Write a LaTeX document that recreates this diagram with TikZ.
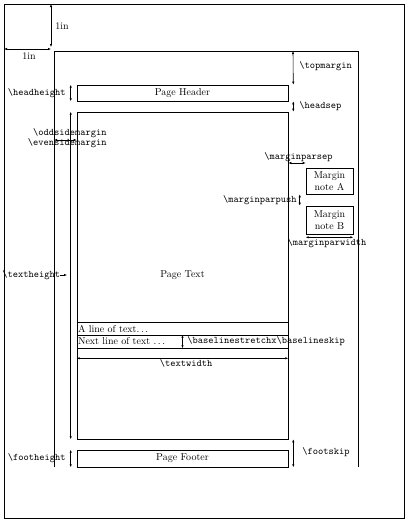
\documentclass[tikz,border=0pt]{standalone}
\usepackage{tikz}
\usetikzlibrary{arrows.meta}
\newcommand{\lmac}[1]{\texttt{\textbackslash #1}}

\begin{document}
\begin{tikzpicture}[x=1pt,y=-1pt,line width=0.6pt,
    dim/.style={{Latex[length=3pt,width=2.4pt]}-{Latex[length=3pt,width=2.4pt]}},
    pointer/.style={-{Latex[length=3pt,width=2.4pt]}},
    box/.style={draw,inner sep=0pt},
    lab/.style={inner sep=0pt}]
    \useasboundingbox (0,0) rectangle (407,522);
    \def \textw {211pt}
    % paper and the one inch frame
    \draw (4,4) rectangle (404.5,518);
    \draw (54,467) -- (54,51) -- (358,51) -- (358,467);
    \coordinate (paperT) at (51,4);
    \coordinate (paperL) at (4,49);
    \coordinate (inchT) at (51,47);
    \coordinate (inchL) at (51,49);
    \draw[dim] (paperT) -- (inchT);
    \draw[dim] (paperL) -- (inchL);
    \node[lab,anchor=west] (inchy) at (55,26) {1in};
    \node[lab] (inchx) at (29,56) {1in};
    % the boxes of the page
    \node[box,minimum width=\textw,minimum height=16pt] (header) at (182.5,93) {Page Header};
    \node[box,minimum width=\textw,minimum height=327pt] (body) at (182.5,275.5) {Page Text};
    \node[box,minimum width=\textw,minimum height=17pt] (footer) at (182.5,458.5) {Page Footer};
    \node[box,minimum height=13pt,text width=209pt,inner xsep=1pt,align=left] (lineA) at (182.5,328.5) {A line of text$\ldots$};
    \node[box,minimum height=13pt,text width=209pt,inner xsep=1pt,align=left] (lineB) at (182.5,341.5) {Next line of text $\ldots$};
    \node[box,minimum width=47pt,minimum height=26pt,align=center] (noteA) at (329.5,181) {Margin\\note A};
    \node[box,minimum width=47pt,minimum height=28pt,align=center] (noteB) at (329.5,220) {Margin\\note B};
    % vertical dimensions
    \coordinate (topm) at (293,51);
    \draw[dim] (topm) -- ([xshift=5pt]header.north east);
    \draw[dim] ([xshift=5pt]header.south east) -- ([xshift=5pt]body.north east);
    \draw[dim] ([xshift=5pt]body.south east) -- ([xshift=5pt]footer.south east);
    \draw[dim] ([xshift=-6pt]header.north west) -- ([xshift=-6pt]header.south west);
    \draw[dim] ([xshift=-6pt]body.north west) -- ([xshift=-6pt]body.south west);
    \draw[dim] ([xshift=-6pt]footer.north west) -- ([xshift=-6pt]footer.south west);
    \draw[dim] ([xshift=-6pt]noteA.south west) -- ([xshift=-6pt]noteB.north west);
    \draw[dim] (lineB.north) -- (lineB.south);
    % horizontal dimensions
    \coordinate (sidem) at (54,140);
    \coordinate (msep) at (297,163);
    \draw[dim] (sidem) -- (body.west |- sidem);
    \draw[dim] (body.east |- msep) -- (noteA.west |- msep);
    \draw[dim] ([yshift=-3pt]noteB.south west) -- ([yshift=-3pt]noteB.south east);
    \draw[dim] ([yshift=-10pt]lineB.south west) -- ([yshift=-10pt]lineB.south east);
    % labels
    \node[lab,anchor=west] (topmlab) at (299,66) {\lmac{topmargin}};
    \node[lab,anchor=west] (hseplab) at (299,106) {\lmac{headsep}};
    \node[lab,anchor=west] (fskiplab) at (302,452) {\lmac{footskip}};
    \node[lab,anchor=east] (hhlab) at (66,93) {\lmac{headheight}};
    \node[lab,anchor=east] (fhlab) at (66,458) {\lmac{footheight}};
    \node[lab,anchor=east] (oddlab) at (107,133) {\lmac{oddsidemargin}};
    \node[lab,anchor=east] (evenlab) at (107,143.5) {\lmac{evensidemargin}};
    \node[lab] (mseplab) at (298.5,157) {\lmac{marginparsep}};
    \node[lab,anchor=east] (mpushlab) at (297,200) {\lmac{marginparpush}};
    \node[lab] (mwidthlab) at (327,243) {\lmac{marginparwidth}};
    \node[lab,anchor=west] (bskiplab) at (187,341.5) {\texttt{\textbackslash baselinestretchx\textbackslash baselineskip}};
    \node[lab] (twidthlab) at (186,363.5) {\lmac{textwidth}};
    \node[lab,anchor=west] (thlab) at (2,275) {\lmac{textheight}};
    \coordinate (thend) at (67,275);
    \draw[pointer] (thlab.east) -- (thend);
\end{tikzpicture}
\end{document}
